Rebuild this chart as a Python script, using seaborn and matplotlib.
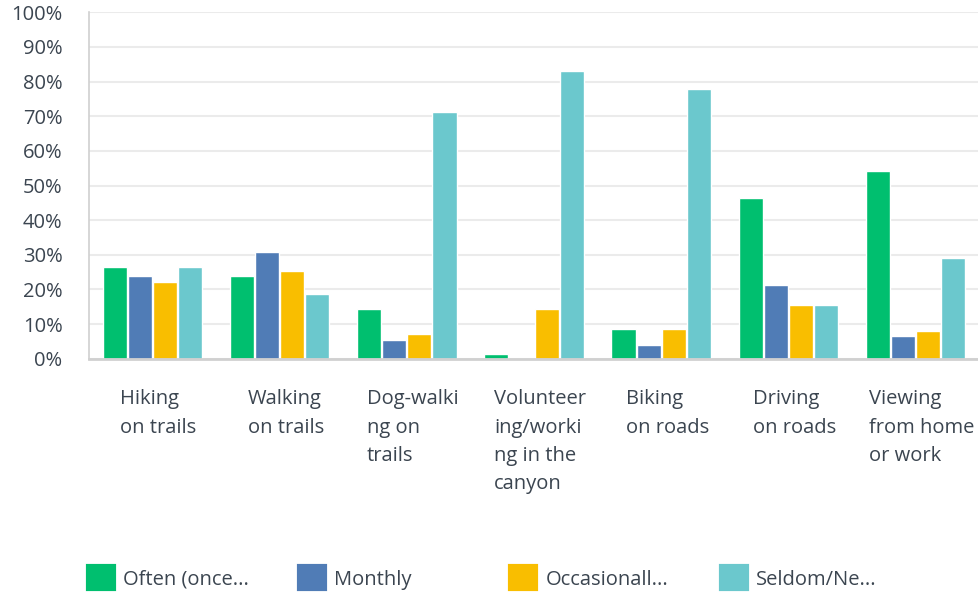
import pandas as pd
import seaborn as sns
import matplotlib.pyplot as plt
import matplotlib.patches as mpatches
import matplotlib.transforms as mtransforms
from matplotlib.ticker import FuncFormatter

activities = [
    "Hiking\non trails",
    "Walking\non trails",
    "Dog-walki\nng on\ntrails",
    "Volunteer\ning/worki\nng in the\ncanyon",
    "Biking\non roads",
    "Driving\non roads",
    "Viewing\nfrom home\nor work",
]
often = [26.5, 23.9, 14.3, 1.3, 8.6, 46.4, 54.2]
monthly = [23.9, 30.8, 5.4, 0.0, 3.9, 21.3, 6.5]
occasionally = [22.1, 25.3, 7.1, 14.3, 8.6, 15.5, 8.0]
seldom = [26.5, 18.7, 71.2, 83.1, 77.9, 15.5, 29.1]

freq_labels = ["Often (once...", "Monthly", "Occasionall...", "Seldom/Ne..."]
colors = ["#00BF6F", "#507CB6", "#F9BE00", "#6BC8CD"]

rows = []
for name, vals in zip(freq_labels, [often, monthly, occasionally, seldom]):
    for act, v in zip(activities, vals):
        rows.append({"Activity": act, "Frequency": name, "Percent": v})
df = pd.DataFrame(rows)

sns.set_theme(style="white")
plt.rcParams["font.family"] = ["Open Sans", "DejaVu Sans"]
text_col = "#3B4550"
fs = 14.5

fig = plt.figure(figsize=(9.79, 5.96), dpi=100)
ax = fig.add_axes([89 / 979, 1 - 358.7 / 596, 1 - 89 / 979, (358.7 - 12.3) / 596])

sns.barplot(
    data=df, x="Activity", y="Percent", hue="Frequency",
    palette=colors, width=0.79, gap=0.04, saturation=1,
    order=activities, hue_order=freq_labels, ax=ax, legend=False,
)

ax.set_xlim(-0.5, len(activities) - 0.5)
ax.set_ylim(0, 100)
ax.set_yticks(range(0, 101, 10))
ax.yaxis.set_major_formatter(FuncFormatter(lambda v, p: f"{int(v)}%"))
ax.set_xlabel("")
ax.set_ylabel("")
ax.grid(axis="y", color="#EBEBEB", linewidth=1.5)
ax.set_axisbelow(True)
for s in ["top", "right"]:
    ax.spines[s].set_visible(False)
ax.spines["left"].set_color("#D0D0D0")
ax.spines["left"].set_linewidth(1.2)
ax.spines["bottom"].set_color("#D0D0D0")
ax.spines["bottom"].set_linewidth(2)

ax.tick_params(axis="y", length=0, pad=19, labelsize=fs, labelcolor=text_col)
ax.tick_params(axis="x", length=0, pad=22, labelsize=fs, labelcolor=text_col)
shift = mtransforms.ScaledTranslation(6 / 100, 0, fig.dpi_scale_trans)
for lbl in ax.get_xticklabels():
    lbl.set_multialignment("left")
    lbl.set_linespacing(1.56)
    lbl.set_verticalalignment("top")
    lbl.set_transform(lbl.get_transform() + shift)

# legend with fixed-width slots
for i, (name, c) in enumerate(zip(freq_labels, colors)):
    h = mpatches.Patch(facecolor=c, edgecolor=c, linewidth=3, joinstyle="round")
    fig.legend(
        handles=[h], labels=[name], loc="center left",
        bbox_to_anchor=((70 + i * 211) / 979, 1 - 578 / 596),
        frameon=False, fontsize=fs, labelcolor=text_col,
        handlelength=1.3, handleheight=1.35, handletextpad=0.45,
    )

fig.savefig("out.png", dpi=100)
